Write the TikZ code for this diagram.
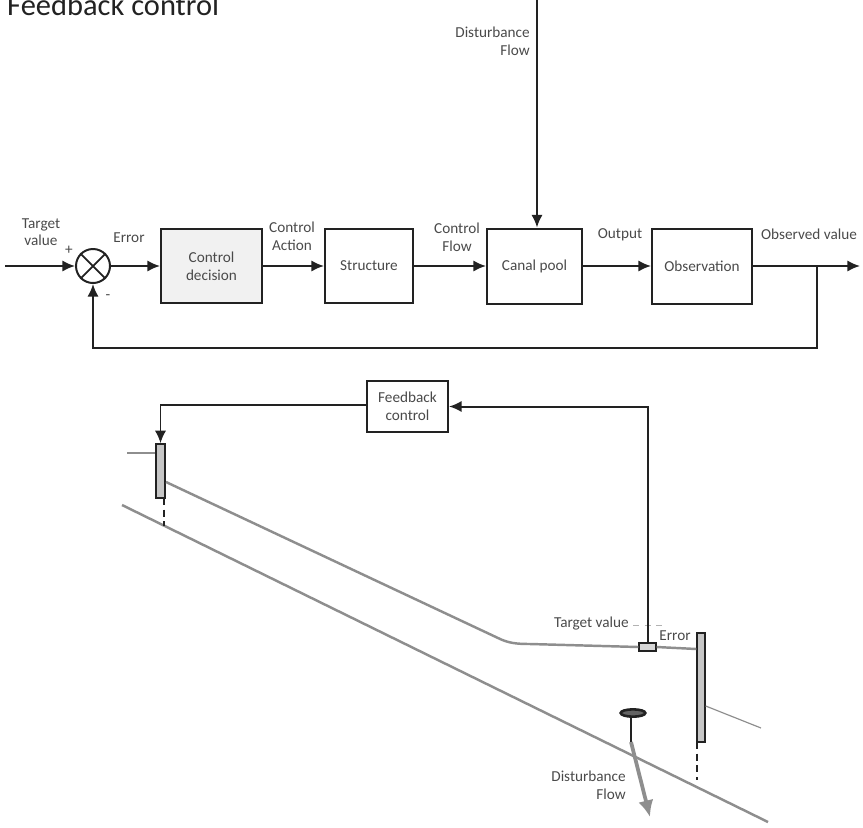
\documentclass[tikz,border=0pt]{standalone}
\usepackage{fontspec}
\setmainfont{Carlito}
\usetikzlibrary{positioning,arrows.meta,calc,shapes.geometric}
\definecolor{LabelGray}{HTML}{4A4A4A}
\definecolor{LineDark}{HTML}{222222}
\definecolor{WaterGray}{HTML}{8E8E8E}
\definecolor{GateGray}{HTML}{C6C6C6}
\definecolor{DecisionTint}{HTML}{F1F1F1}
\newcommand{\LabelFont}{\fontsize{13}{15}\selectfont}
\tikzset{
  block/.style={draw=LineDark, line width=1.7pt, fill=white, align=center, inner sep=0pt,
                text=LabelGray, font=\LabelFont},
  blockfill/.style={block, fill=DecisionTint},
  lbl/.style={align=center, inner sep=0pt, text=LabelGray, font=\LabelFont},
  lblright/.style={lbl, align=right, anchor=east},
  flow/.style={-{Latex[length=3.8mm,width=3.4mm]}, line width=1.7pt, LineDark},
  plain/.style={line width=1.5pt, LineDark},
  water/.style={line width=2.1pt, WaterGray},
  gate/.style={draw=LineDark, line width=1.2pt, fill=GateGray, inner sep=0pt},
}

\begin{document}
\begin{tikzpicture}[x=0.03cm, y=-0.03cm]
  \useasboundingbox (0,0) rectangle (863,827);
  \node[lbl, anchor=base west, text=LineDark, font=\fontsize{26}{30}\selectfont] (title) at (7,15) {Feedback control};

  % upper loop
  \node[draw=LineDark, line width=1.7pt, circle, minimum size=1.02cm, inner sep=0pt] (sum) at (93,266) {};
  \draw[line width=1.5pt, LineDark] (sum.north west) -- (sum.south east) (sum.north east) -- (sum.south west);
  \node[blockfill, minimum width=3.03cm, minimum height=2.22cm] (decision) at (211.5,266) {Control\\decision};
  \node[block, minimum width=2.64cm, minimum height=2.22cm] (structure) at (369,266) {Structure};
  \node[block, minimum width=2.85cm, minimum height=2.25cm] (pool) at (534.5,266) {Canal pool};
  \node[block, minimum width=3cm, minimum height=2.25cm] (observation) at (702,266) {Observation};
  \coordinate (in) at (5,266);
  \coordinate (out) at (860,266);
  \coordinate (branch) at (817,266);
  \coordinate (topflow) at (537,0);
  \draw[flow] (in) -- (sum);
  \draw[flow] (sum) -- (decision);
  \draw[flow] (decision) -- (structure);
  \draw[flow] (structure) -- (pool);
  \draw[flow] (pool) -- (observation);
  \draw[flow] (observation) -- (out);
  \draw[flow] (topflow) -- (topflow |- pool.north);
  \draw[flow] (branch) -- ++(0,82) -| (sum);

  \node[lbl] (target) at (41,232) {Target\\value};
  \node[lbl] (plus) at (69,250) {+};
  \node[lbl] (minus) at (108,297) {-};
  \node[lbl] (error) at (129,238) {Error};
  \node[lbl] (action) at (292,236) {Control\\Action};
  \node[lbl] (ctrlflow) at (457,237) {Control\\Flow};
  \node[lbl] (output) at (620,235) {Output};
  \node[lbl] (observed) at (809,234) {Observed value};
  \node[lblright] (disturb) at (530,41) {Disturbance\\Flow};

  % lower canal
  \node[block, minimum width=2.43cm, minimum height=1.53cm] (feedback) at (407.5,406.5) {Feedback\\control};
  \node[gate, minimum width=.27cm, minimum height=1.62cm] (upgate) at (160.5,471) {};
  \node[gate, minimum width=.24cm, minimum height=3.27cm] (downgate) at (701,687.5) {};
  \node[gate, fill=GateGray!70, minimum width=.51cm, minimum height=.24cm] (sensor) at (647.5,647) {};
  \node[draw=LineDark, line width=2.2pt, fill=LineDark!70, ellipse, minimum width=.74cm, minimum height=.22cm, inner sep=0pt] (wheel) at (633,713) {};
  \coordinate (stemend) at (631,742);
  \coordinate (upwater) at (166,482);
  \coordinate (bedtop) at (122,505);
  \coordinate (bedend) at (768,822);
  \coordinate (outflow) at (650,817);
  \draw[water] (bedtop) -- (bedend);
  \draw[water] (upwater) -- (498,638) .. controls (508,643) and (516,644) .. (530,644) -- (sensor.west);
  \draw[water] (sensor.east) -- (downgate.west |- 0,649);
  \draw[WaterGray, line width=1pt] (127,453) -- (upgate.west |- 0,453);
  \draw[WaterGray, line width=1pt] (downgate.east |- 0,706) -- (761,728);
  \draw[plain, dash pattern=on 6pt off 4pt] (164,498) -- (164,526);
  \draw[plain, dash pattern=on 6pt off 4pt] (697,742) -- (697,780);
  \draw[gray!60, line width=.8pt, dash pattern=on 5pt off 5pt] (633,625) -- (666,625);
  \draw[line width=2.2pt, LineDark] (stemend |- wheel.south) -- (stemend);
  \draw[-{Latex[length=5mm,width=4.6mm]}, line width=3.2pt, WaterGray] (stemend) -- (outflow);
  \draw[flow] (sensor.north) -- (sensor.north |- feedback.east) -- (feedback.east);
  \draw[flow] (feedback.west |- 0,405) -| (upgate.north);

  \node[lblright] (targetlow) at (629,624) {Target value};
  \node[lbl] (errorlow) at (675,636) {Error};
  \node[lblright] (disturblow) at (626,785) {Disturbance\\Flow};
\end{tikzpicture}
\end{document}
